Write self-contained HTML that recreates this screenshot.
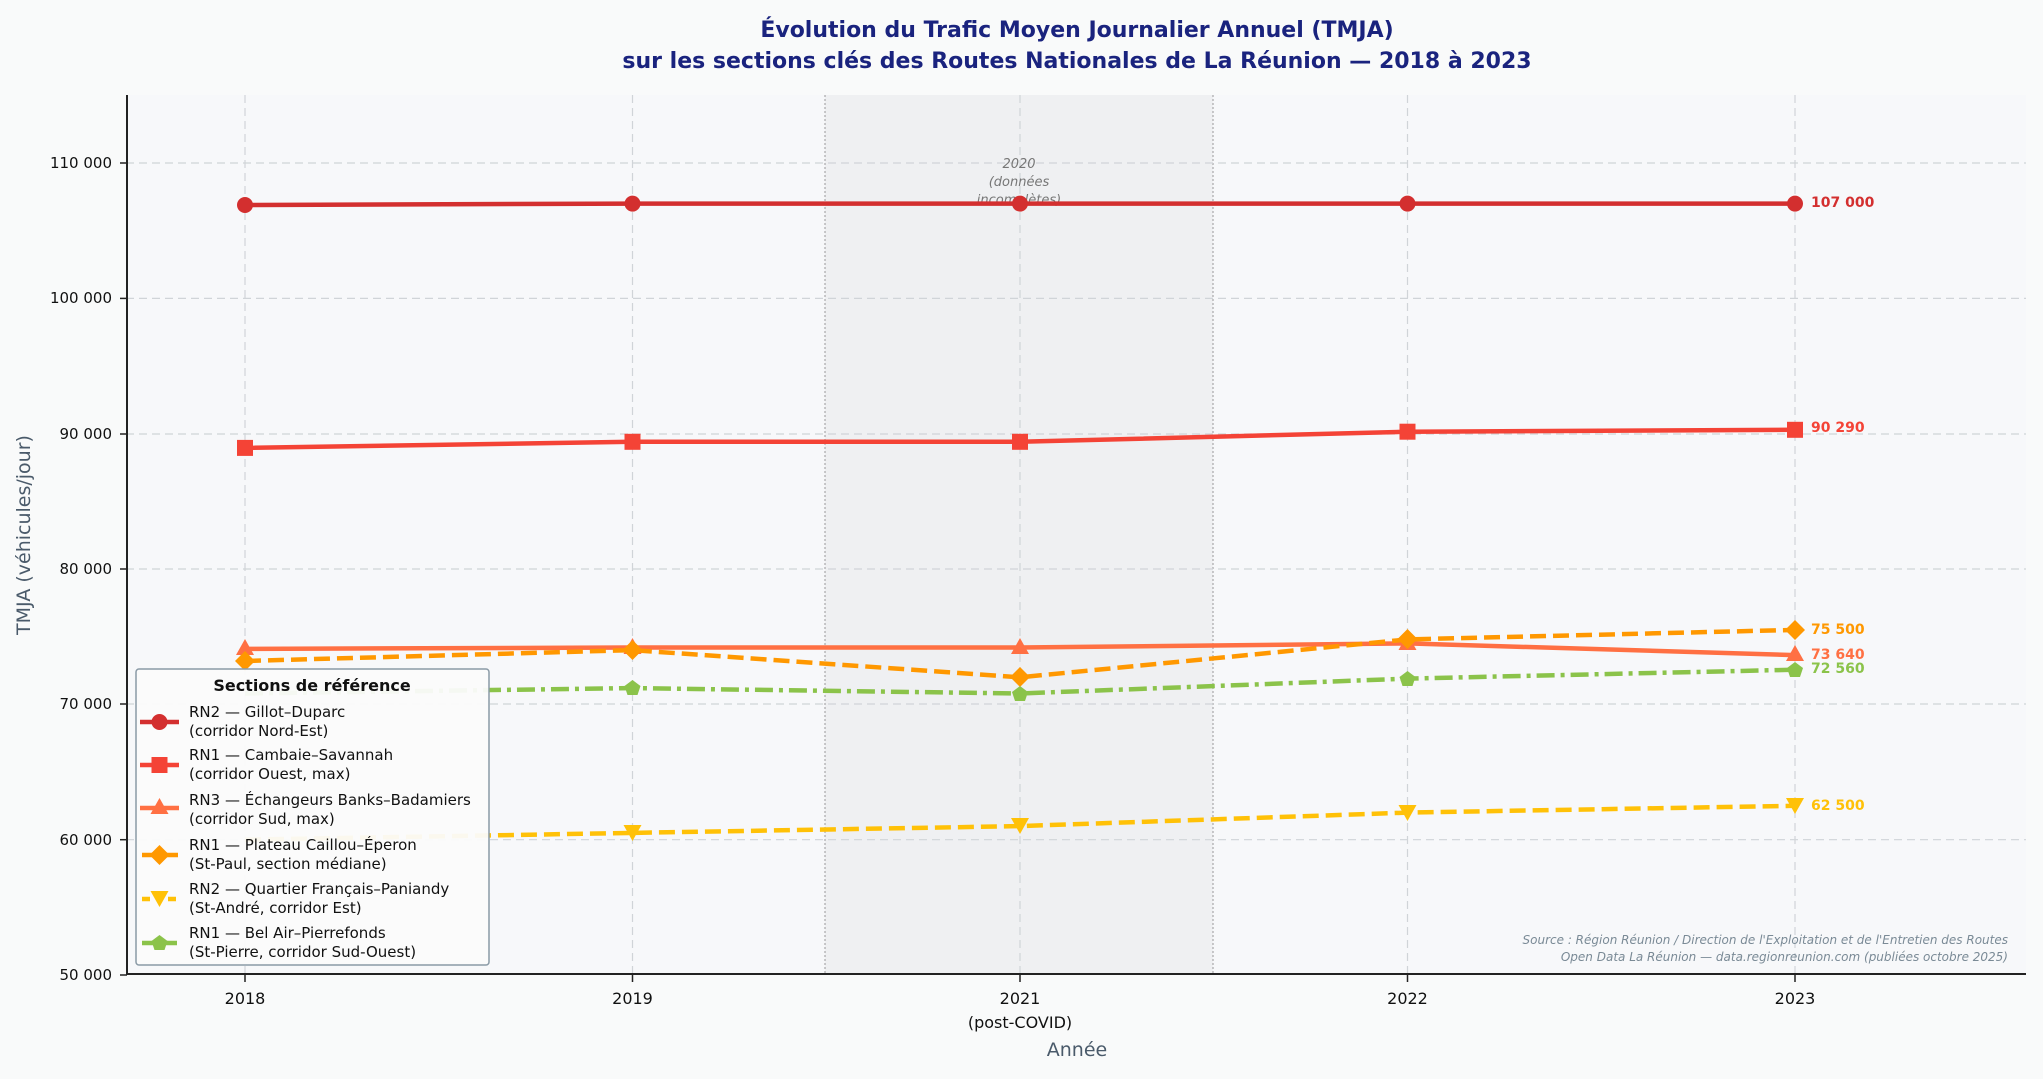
<!DOCTYPE html>
<html><head><meta charset="utf-8"><style>
body{margin:0;background:#f9f9f9;}
svg{display:block;font-family:"DejaVu Sans","Liberation Sans",sans-serif;}
</style></head><body>
<svg width="2043" height="1079" viewBox="0 0 2043 1079" xmlns="http://www.w3.org/2000/svg">
<rect width="2043" height="1079" fill="#f9fafa"/>
<rect x="126" y="95" width="1900" height="880" fill="#f7f8fa"/>
<rect x="825" y="95" width="388" height="880" fill="#eceef0" opacity="0.8"/>
<line x1="825" y1="95" x2="825" y2="975" stroke="#999" stroke-dasharray="2,2" stroke-width="1"/>
<line x1="1213" y1="95" x2="1213" y2="975" stroke="#999" stroke-dasharray="2,2" stroke-width="1"/>
<g stroke="#d0d4d8" stroke-dasharray="8,5" stroke-width="1.2">
<line x1="126" x2="2026" y1="839.7" y2="839.7"/><line x1="126" x2="2026" y1="704" y2="704"/>
<line x1="126" x2="2026" y1="569" y2="569"/><line x1="126" x2="2026" y1="434" y2="434"/>
<line x1="126" x2="2026" y1="298.4" y2="298.4"/><line x1="126" x2="2026" y1="163" y2="163"/>
<line y1="95" y2="975" x1="245" x2="245"/><line y1="95" y2="975" x1="632.5" x2="632.5"/>
<line y1="95" y2="975" x1="1020" x2="1020"/><line y1="95" y2="975" x1="1407.5" x2="1407.5"/>
<line y1="95" y2="975" x1="1795" x2="1795"/>
</g>
<g font-style="italic" font-size="13" fill="#777" text-anchor="middle">
<text x="1019" y="168">2020</text><text x="1019" y="186">(données</text><text x="1019" y="204">incomplètes)</text></g>
<!-- series -->
<g fill="none" stroke-width="4.5" stroke-linejoin="round">
<polyline stroke="#d32f2f" points="245,205 632.5,203.6 1020,203.6 1407.5,203.6 1795,203.6"/>
<polyline stroke="#f44336" points="245,447.9 632.5,441.8 1020,441.8 1407.5,431.7 1795,429.8"/>
<polyline stroke="#ff7043" points="245,648.9 632.5,647.5 1020,647.5 1407.5,643.4 1795,655.1"/>
<polyline stroke="#ff9800" stroke-dasharray="16,7" points="245,661 632.5,650.1 1020,677.3 1407.5,639.4 1795,629.9"/>
<polyline stroke="#ffc107" stroke-dasharray="16,7" points="245,839.7 632.5,832.9 1020,826.1 1407.5,812.6 1795,805.8"/>
<polyline stroke="#8bc34a" stroke-dasharray="18,6,4,6" points="245,693.5 632.5,688.1 1020,693.5 1407.5,678.6 1795,669.7"/>
</g>
<g fill="#d32f2f"><circle cx="245" cy="205" r="8"/><circle cx="632.5" cy="203.6" r="8"/><circle cx="1020" cy="203.6" r="8"/><circle cx="1407.5" cy="203.6" r="8"/><circle cx="1795" cy="203.6" r="8"/></g>
<g fill="#f44336"><rect x="237" y="439.9" width="16" height="16"/><rect x="624.5" y="433.8" width="16" height="16"/><rect x="1012" y="433.8" width="16" height="16"/><rect x="1399.5" y="423.7" width="16" height="16"/><rect x="1787" y="421.8" width="16" height="16"/></g>
<g fill="#ff7043"><path d="M245,639 l9,16 h-18z"/><path d="M632.5,638 l9,16 h-18z"/><path d="M1020,638 l9,16 h-18z"/><path d="M1407.5,634 l9,16 h-18z"/><path d="M1795,645 l9,16 h-18z"/></g>
<g fill="#ff9800"><path d="M245,651 l10,10 -10,10 -10,-10z"/><path d="M632.5,640 l10,10 -10,10 -10,-10z"/><path d="M1020,667 l10,10 -10,10 -10,-10z"/><path d="M1407.5,629 l10,10 -10,10 -10,-10z"/><path d="M1795,620 l10,10 -10,10 -10,-10z"/></g>
<g fill="#ffc107"><path d="M632.5,841 l9,-16 h-18z"/><path d="M1020,834 l9,-16 h-18z"/><path d="M1407.5,821 l9,-16 h-18z"/><path d="M1795,814 l9,-16 h-18z"/></g>
<g fill="#8bc34a"><path d="M632.5,680 l8,6 -3,9 h-10 l-3,-9z"/><path d="M1020,686 l8,6 -3,9 h-10 l-3,-9z"/><path d="M1407.5,671 l8,6 -3,9 h-10 l-3,-9z"/><path d="M1795,662 l8,6 -3,9 h-10 l-3,-9z"/></g>
<g font-weight="bold" font-size="14">
<text x="1811" y="207" fill="#d32f2f">107 000</text><text x="1811" y="432" fill="#f44336">90 290</text>
<text x="1811" y="634" fill="#ff9800">75 500</text><text x="1811" y="659" fill="#ff7043">73 640</text>
<text x="1811" y="673" fill="#8bc34a">72 560</text><text x="1811" y="810" fill="#ffc107">62 500</text></g>
<!-- axes -->
<line x1="127" y1="95" x2="127" y2="975" stroke="#222" stroke-width="2"/>
<line x1="126" y1="974" x2="2026" y2="974" stroke="#222" stroke-width="2"/>
<g font-size="15" fill="#111" text-anchor="end">
<text x="112" y="980">50 000</text><text x="112" y="845">60 000</text><text x="112" y="709">70 000</text>
<text x="112" y="574">80 000</text><text x="112" y="439">90 000</text><text x="112" y="303">100 000</text><text x="112" y="168">110 000</text></g>
<g stroke="#222" stroke-width="1.5"><line x1="120" x2="127" y1="975" y2="975"/><line x1="120" x2="127" y1="839.7" y2="839.7"/><line x1="120" x2="127" y1="704" y2="704"/><line x1="120" x2="127" y1="569" y2="569"/><line x1="120" x2="127" y1="434" y2="434"/><line x1="120" x2="127" y1="298.4" y2="298.4"/><line x1="120" x2="127" y1="163" y2="163"/>
<line y1="975" y2="982" x1="245" x2="245"/><line y1="975" y2="982" x1="632.5" x2="632.5"/><line y1="975" y2="982" x1="1020" x2="1020"/><line y1="975" y2="982" x1="1407.5" x2="1407.5"/><line y1="975" y2="982" x1="1795" x2="1795"/></g>
<g font-size="16" fill="#111" text-anchor="middle">
<text x="245" y="1004">2018</text><text x="632.5" y="1004">2019</text><text x="1020" y="1004">2021</text><text x="1020" y="1028">(post-COVID)</text><text x="1407.5" y="1004">2022</text><text x="1795" y="1004">2023</text></g>
<text x="1077" y="1056" font-size="19" fill="#4a5a6a" text-anchor="middle">Année</text>
<text transform="translate(30,535) rotate(-90)" font-size="19" fill="#4a5a6a" text-anchor="middle">TMJA (véhicules/jour)</text>
<g font-size="22" font-weight="bold" fill="#1a237e" text-anchor="middle">
<text x="1077" y="37">Évolution du Trafic Moyen Journalier Annuel (TMJA)</text>
<text x="1077" y="68">sur les sections clés des Routes Nationales de La Réunion — 2018 à 2023</text></g>
<g font-size="12" font-style="italic" fill="#7a8a96" text-anchor="end">
<text x="2008" y="944">Source : Région Réunion / Direction de l'Exploitation et de l'Entretien des Routes</text>
<text x="2008" y="961">Open Data La Réunion — data.regionreunion.com (publiées octobre 2025)</text></g>
<!-- legend -->
<rect x="136" y="669" width="353" height="296" rx="3" fill="#fbfbfb" fill-opacity="0.95" stroke="#8a9aa6" stroke-width="1.5"/>
<text x="312" y="691" font-size="16" font-weight="bold" text-anchor="middle" fill="#111">Sections de référence</text>
<g stroke-width="4.5">
<line x1="140" x2="179" y1="722" y2="722" stroke="#d32f2f"/><circle cx="159.5" cy="722" r="8" fill="#d32f2f"/>
<line x1="140" x2="179" y1="765" y2="765" stroke="#f44336"/><rect x="151.5" y="757" width="16" height="16" fill="#f44336"/>
<line x1="140" x2="179" y1="808" y2="808" stroke="#ff7043"/><path d="M159.5,798 l9,16 h-18z" fill="#ff7043"/>
<line x1="142" x2="178" y1="855" y2="855" stroke="#ff9800"/><path d="M159.5,845 l10,10 -10,10 -10,-10z" fill="#ff9800"/>
<line x1="142" x2="150" y1="899" y2="899" stroke="#ffc107"/><line x1="168" x2="176" y1="899" y2="899" stroke="#ffc107"/><path d="M159.5,907 l9,-16 h-18z" fill="#ffc107"/>
<line x1="142" x2="177" y1="943" y2="943" stroke="#8bc34a"/><path d="M159.5,935 l8,6 -3,9 h-10 l-3,-9z" fill="#8bc34a"/>
</g>
<g font-size="15" fill="#111">
<text x="189" y="717">RN2 — Gillot–Duparc</text><text x="189" y="736">(corridor Nord-Est)</text>
<text x="189" y="760">RN1 — Cambaie–Savannah</text><text x="189" y="779">(corridor Ouest, max)</text>
<text x="189" y="805">RN3 — Échangeurs Banks–Badamiers</text><text x="189" y="824">(corridor Sud, max)</text>
<text x="189" y="850">RN1 — Plateau Caillou–Éperon</text><text x="189" y="869">(St-Paul, section médiane)</text>
<text x="189" y="894">RN2 — Quartier Français–Paniandy</text><text x="189" y="913">(St-André, corridor Est)</text>
<text x="189" y="938">RN1 — Bel Air–Pierrefonds</text><text x="189" y="957">(St-Pierre, corridor Sud-Ouest)</text>
</g>
</svg>
</body></html>
